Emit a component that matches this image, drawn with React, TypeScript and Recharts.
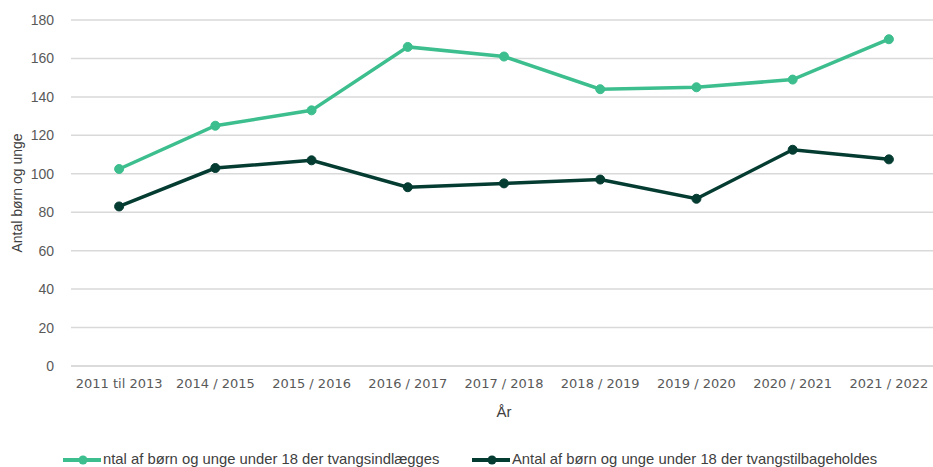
import React from 'react';
import {
  LineChart,
  Line,
  XAxis,
  YAxis,
  CartesianGrid,
  Legend,
} from 'recharts';

const years = [
  '2011 til 2013',
  '2014 / 2015',
  '2015 / 2016',
  '2016 / 2017',
  '2017 / 2018',
  '2018 / 2019',
  '2019 / 2020',
  '2020 / 2021',
  '2021 / 2022',
];
const indlagte = [102.5, 125, 133, 166, 161, 144, 145, 149, 170];
const tilbageholdte = [83, 103, 107, 93, 95, 97, 87, 112.5, 107.5];
const yTicks = [0, 20, 40, 60, 80, 100, 120, 140, 160, 180];

const seriesNames = {
  a: 'Antal af børn og unge under 18 der tvangsindlægges',
  b: 'Antal af børn og unge under 18 der tvangstilbageholdes',
};

const GREEN = '#3dbe8e';
const DARK = '#053c32';

const chartData = years.map((year, i) => ({
  year,
  a: indlagte[i],
  b: tilbageholdte[i],
}));

// legend drawn by hand so the marker overlaps the first letter like the original
const LegendContent = () => {
  const item = (color: string, text: string, left: number) => (
    <div style={{ position: 'absolute', left, top: 0, height: 16, whiteSpace: 'nowrap' }}>
      <svg width={40} height={16} style={{ position: 'absolute', left: 0, top: 0 }}>
        <line x1={0} y1={8} x2={38} y2={8} stroke={color} strokeWidth={4} />
        <circle cx={20} cy={8} r={4.5} fill={color} />
      </svg>
      <span
        style={{
          position: 'absolute',
          left: 40,
          top: -1,
          fontFamily: '"Liberation Sans", sans-serif',
          fontSize: 14.8,
          color: '#404040',
        }}
      >
        {text}
      </span>
    </div>
  );
  return (
    <div style={{ position: 'relative', width: 933, height: 20 }}>
      {item(GREEN, seriesNames.a.slice(1), 63)}
      {item(DARK, seriesNames.b, 472)}
    </div>
  );
};

export default function App() {
  return (
    <div style={{ position: 'absolute', left: 0, top: 0, width: 933, height: 467, background: '#fff' }}>
      <LineChart
        width={933}
        height={467}
        data={chartData}
        margin={{ top: 20, right: -4, left: 0, bottom: 0 }}
      >
        <CartesianGrid vertical={false} stroke="#d9d9d9" strokeWidth={1.5} />
        <XAxis
          dataKey="year"
          scale="band"
          height={101}
          axisLine={{ stroke: '#d9d9d9', strokeWidth: 1.5 }}
          tickLine={false}
          tickMargin={7}
          interval={0}
          tick={{ fill: '#595959', fontSize: 13, fontFamily: '"DejaVu Sans", sans-serif' }}
          label={({ viewBox }: any) => (
            <text
              x={viewBox.x + viewBox.width / 2}
              y={viewBox.y + 51}
              textAnchor="middle"
              fill="#404040"
              fontSize={15}
              fontFamily='"Liberation Sans", sans-serif'
            >
              År
            </text>
          )}
        />
        <YAxis
          width={71}
          domain={[0, 180]}
          ticks={yTicks}
          axisLine={false}
          tickLine={false}
          tickMargin={11}
          tick={{ fill: '#595959', fontSize: 14, fontFamily: '"Liberation Sans", sans-serif' }}
          label={({ viewBox }: any) => {
            const cx = viewBox.x + 17;
            const cy = viewBox.y + viewBox.height / 2;
            return (
              <text
                x={cx}
                y={cy}
                transform={`rotate(-90 ${cx} ${cy})`}
                textAnchor="middle"
                dominantBaseline="central"
                fill="#404040"
                fontSize={14}
                fontFamily='"Liberation Sans", sans-serif'
              >
                Antal børn og unge
              </text>
            );
          }}
        />
        <Legend
          layout="horizontal"
          verticalAlign="middle"
          align="center"
          content={<LegendContent />}
          wrapperStyle={{ position: 'absolute', top: 452, left: 0, width: 933 }}
        />
        <Line
          type="linear"
          dataKey="a"
          name={seriesNames.a}
          stroke={GREEN}
          strokeWidth={3.5}
          dot={{ r: 4.5, fill: GREEN, stroke: GREEN, strokeWidth: 1 }}
          isAnimationActive={false}
        />
        <Line
          type="linear"
          dataKey="b"
          name={seriesNames.b}
          stroke={DARK}
          strokeWidth={3.5}
          dot={{ r: 4.5, fill: DARK, stroke: DARK, strokeWidth: 1 }}
          isAnimationActive={false}
        />
      </LineChart>
    </div>
  );
}
